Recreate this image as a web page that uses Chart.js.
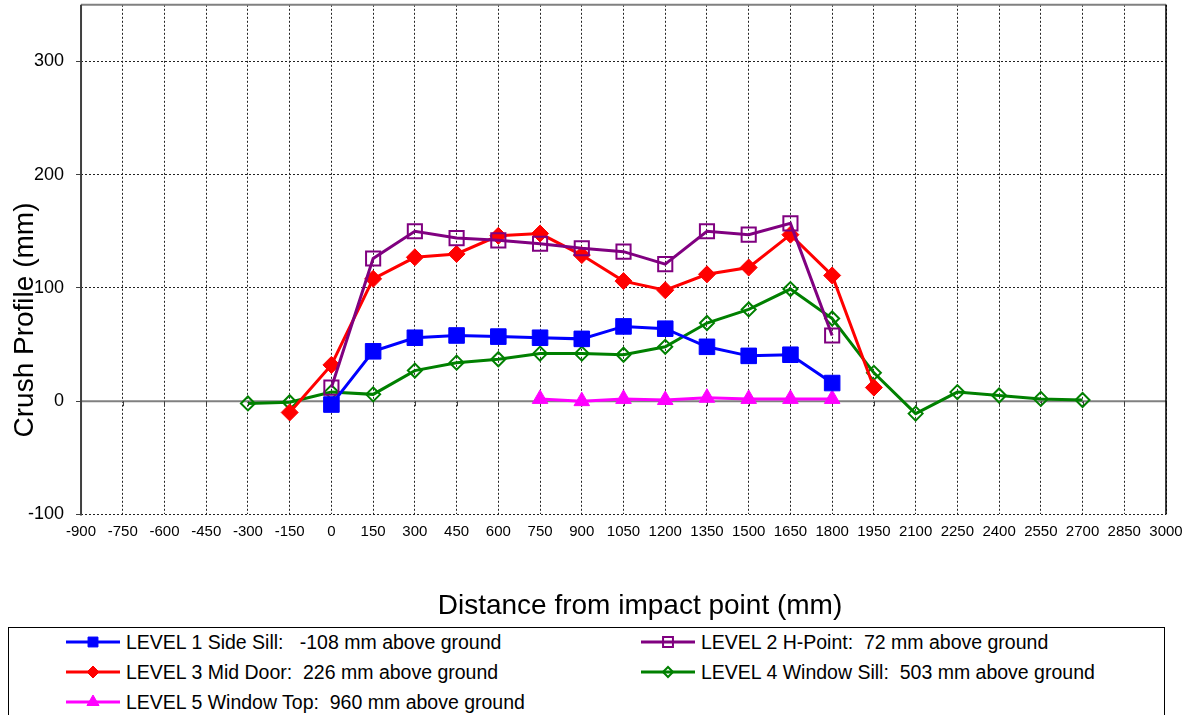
<!DOCTYPE html>
<html>
<head>
<meta charset="utf-8">
<script src="https://cdn.jsdelivr.net/npm/chart.js@4.4.0/dist/chart.umd.min.js"></script>
<style>
  body { margin: 0; background: #fff; font-family: "Liberation Sans", Arial, sans-serif; }
  #wrap { position: relative; width: 1192px; height: 715px; overflow: hidden; }
  #chart { position: absolute; left: 0; top: -18px; }
  #legend { position: absolute; left: 8px; top: 627px; width: 1157px; height: 100px; border: 1px solid #000; box-sizing: border-box; background: #fff; }
  .item { position: absolute; display: flex; align-items: center; font-size: 19.5px; color: #000; white-space: pre; height: 22px; }
  .item canvas { margin-right: 6px; }
</style>
</head>
<body>
<div id="wrap">
  <canvas id="chart" width="1192" height="733"></canvas>
  <div id="legend"></div>
</div>
<script>
// distance from impact point (mm)
const positions = [-300, -150, 0, 150, 300, 450, 600, 750, 900, 1050, 1200, 1350, 1500, 1650, 1800, 1950, 2100, 2250, 2400, 2550, 2700];

// crush values (mm), null = not measured
const level1 = [null, null, -3, 44, 56, 58, 57, 56, 55, 66, 64, 48, 40, 41, 16, null, null, null, null, null, null];
const level2 = [null, null, 12, 126, 150, 144, 142, 139, 135, 132, 121, 150, 147, 157, 58, null, null, null, null, null, null];
const level3 = [null, -10, 32, 108, 127, 130, 146, 148, 129, 106, 98, 112, 118, 147, 111, 12, null, null, null, null, null];
const level4 = [-2, -1, 8, 6, 27, 34, 37, 42, 42, 41, 48, 69, 81, 99, 73, 25, -11, 8, 5, 2, 1];
const level5 = [null, null, null, null, null, null, null, 2, 0, 2, 1, 3, 2, 2, 2, null, null, null, null, null, null];

const seriesLabels = [
  "LEVEL 1 Side Sill:   -108 mm above ground",
  "LEVEL 2 H-Point:  72 mm above ground",
  "LEVEL 3 Mid Door:  226 mm above ground",
  "LEVEL 4 Window Sill:  503 mm above ground",
  "LEVEL 5 Window Top:  960 mm above ground"
];

const xTicks = [-900, -750, -600, -450, -300, -150, 0, 150, 300, 450, 600, 750, 900, 1050, 1200, 1350, 1500, 1650, 1800, 1950, 2100, 2250, 2400, 2550, 2700, 2850, 3000];
const yTicks = [-100, 0, 100, 200, 300];
const xTitle = "Distance from impact point (mm)";
const yTitle = "Crush Profile (mm)";

const toPoints = (vals) => positions
  .map((x, i) => ({ x: x, y: vals[i] }))
  .filter(p => p.y !== null);

Chart.defaults.font.family = "'Liberation Sans', Arial, sans-serif";
Chart.defaults.color = "#000";

// plot frame, zero axis and its tick marks
const framePlugin = {
  id: "frame",
  beforeDatasetsDraw(chart) {
    const { ctx, chartArea: a, scales } = chart;
    const y0 = scales.y.getPixelForValue(0);
    ctx.save();
    ctx.strokeStyle = "#808080";
    ctx.lineWidth = 2;
    ctx.beginPath();
    ctx.moveTo(a.left, y0);
    ctx.lineTo(a.right, y0);
    ctx.stroke();
    ctx.strokeStyle = "#404040";
    ctx.lineWidth = 1;
    xTicks.forEach(v => {
      const x = Math.round(scales.x.getPixelForValue(v)) + 0.5;
      ctx.beginPath();
      ctx.moveTo(x, y0);
      ctx.lineTo(x, y0 + 5);
      ctx.stroke();
    });
    // top
    ctx.strokeStyle = "#808080";
    ctx.lineWidth = 2;
    ctx.beginPath();
    ctx.moveTo(a.left, a.top);
    ctx.lineTo(a.right, a.top);
    ctx.stroke();
    // right
    ctx.strokeStyle = "#000";
    ctx.lineWidth = 1.5;
    ctx.beginPath();
    ctx.moveTo(a.right, a.top);
    ctx.lineTo(a.right, a.bottom);
    ctx.stroke();
    // left
    ctx.strokeStyle = "#404040";
    ctx.lineWidth = 2;
    ctx.beginPath();
    ctx.moveTo(a.left, a.top);
    ctx.lineTo(a.left, a.bottom + 1);
    ctx.stroke();
    ctx.restore();
  },
  afterDraw(chart) {
    // axis titles sit off the plot centre, like the original
    const ctx = chart.ctx;
    ctx.save();
    ctx.font = "28px 'Liberation Sans', Arial, sans-serif";
    ctx.fillStyle = "#000";
    ctx.textAlign = "center";
    ctx.textBaseline = "middle";
    ctx.fillText(xTitle, 640, chart.scales.x.bottom - 16.8);
    ctx.translate(25, 338);
    ctx.rotate(-Math.PI / 2);
    ctx.fillText(yTitle, 0, 0);
    ctx.restore();
  }
};

const styles = [
  { color: "#0000FF", fill: "#0000FF", pointStyle: "rect", radius: 11, legendRadius: 7, bw: 1 },
  { color: "#800080", fill: "rgba(0,0,0,0)", pointStyle: "rect", radius: 10, legendRadius: 7, bw: 2 },
  { color: "#FF0000", fill: "#FF0000", pointStyle: "rectRot", radius: 8.5, legendRadius: 6, bw: 1 },
  { color: "#008000", fill: "rgba(0,0,0,0)", pointStyle: "rectRot", radius: 7, legendRadius: 5, bw: 2 },
  { color: "#FF00FF", fill: "#FF00FF", pointStyle: "triangle", radius: 9, legendRadius: 7, bw: 1 }
];
const seriesValues = [level1, level2, level3, level4, level5];

const datasets = seriesValues.map((vals, i) => ({
  label: seriesLabels[i],
  data: toPoints(vals),
  borderColor: styles[i].color,
  backgroundColor: styles[i].fill,
  borderWidth: 3,
  pointStyle: styles[i].pointStyle,
  pointRadius: styles[i].radius,
  pointBorderWidth: styles[i].bw,
  pointBorderColor: styles[i].color,
  pointBackgroundColor: styles[i].fill,
  tension: 0,
  fill: false
}));

const chart = new Chart(document.getElementById("chart"), {
  type: "line",
  data: { datasets: datasets },
  options: {
    responsive: false,
    animation: false,
    layout: { padding: { left: 16, top: 4, right: 26, bottom: 92 } },
    plugins: { legend: { display: false }, tooltip: { enabled: false } },
    scales: {
      x: {
        type: "linear",
        min: -900,
        max: 3000,
        afterBuildTicks: (s) => { s.ticks = xTicks.map(v => ({ value: v })); },
        ticks: { font: { size: 15 }, padding: 8, maxRotation: 0, autoSkip: false, callback: (v) => String(v) },
        grid: {
          color: (c) => c.tick && c.tick.value === -900 ? "rgba(0,0,0,0)" : "#222",
          lineWidth: 1,
          drawTicks: false
        },
        border: { display: false, dash: [2, 2] },
        // reserves the space; the text itself is drawn by the frame plugin
        title: { display: true, text: xTitle, color: "rgba(0,0,0,0)", font: { size: 28 }, padding: { top: 41, bottom: 0 } }
      },
      y: {
        min: -100,
        max: 350,
        afterBuildTicks: (s) => { s.ticks = yTicks.map(v => ({ value: v })); },
        ticks: { font: { size: 18 }, padding: 12, callback: (v) => String(v) },
        grid: {
          color: (c) => c.tick && c.tick.value === 0 ? "rgba(0,0,0,0)" : "#222",
          lineWidth: 1,
          tickLength: 5,
          tickColor: "#404040"
        },
        border: { display: false, dash: [2, 2] }
      }
    }
  },
  plugins: [framePlugin]
});

// legend: two columns, row-major
const legend = document.getElementById("legend");
const colX = [57, 632];
const rowY = [3, 33, 63];
chart.data.datasets.forEach((ds, i) => {
  const item = document.createElement("div");
  item.className = "item";
  item.style.left = colX[i % 2] + "px";
  item.style.top = rowY[Math.floor(i / 2)] + "px";
  const c = document.createElement("canvas");
  c.width = 54; c.height = 22;
  const g = c.getContext("2d");
  g.strokeStyle = ds.borderColor;
  g.lineWidth = 3;
  g.beginPath();
  g.moveTo(0, 11); g.lineTo(54, 11);
  g.stroke();
  g.fillStyle = ds.pointBackgroundColor;
  g.strokeStyle = ds.pointBorderColor;
  g.lineWidth = ds.pointBorderWidth;
  Chart.helpers.drawPoint(g, { pointStyle: ds.pointStyle, radius: styles[i].legendRadius, rotation: 0, borderWidth: ds.pointBorderWidth }, 27, 11);
  item.appendChild(c);
  const t = document.createElement("span");
  t.textContent = ds.label;
  item.appendChild(t);
  legend.appendChild(item);
});
</script>
</body>
</html>
